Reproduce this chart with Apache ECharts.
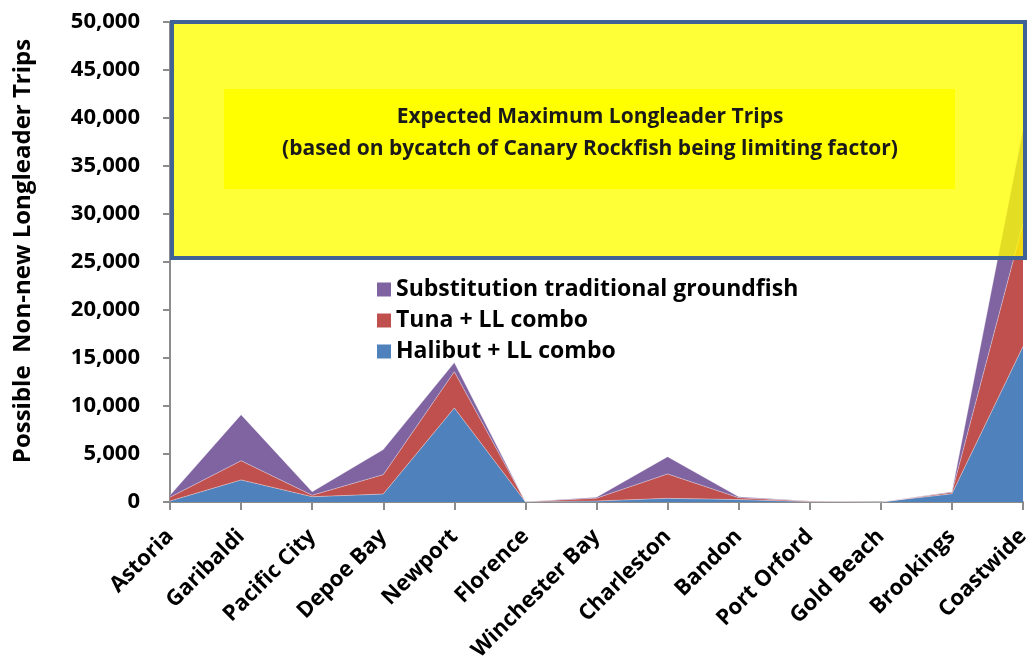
<!DOCTYPE html>
<html>
<head>
<meta charset="utf-8">
<script src="https://cdn.jsdelivr.net/npm/echarts@6/dist/echarts.min.js"></script>
<style>
  html, body { margin: 0; padding: 0; background: #ffffff; }
  #chart { width: 1031px; height: 666px; }
</style>
</head>
<body>
<div id="chart"></div>
<script>
// Ports along the coast, plus the coastwide total
const ports = ['Astoria', 'Garibaldi', 'Pacific City', 'Depoe Bay', 'Newport', 'Florence',
  'Winchester Bay', 'Charleston', 'Bandon', 'Port Orford', 'Gold Beach', 'Brookings', 'Coastwide'];

// Trips per category (stacked: halibut at the bottom, substitution on top)
const halibutLL = [100, 2300, 550, 830, 9800, 20, 100, 380, 250, 30, 0, 850, 16200];
const tunaLL = [400, 2000, 150, 2020, 3770, 10, 300, 2540, 200, 50, 0, 150, 12800];
const substitution = [200, 4800, 370, 2610, 950, 0, 100, 1800, 100, 20, 0, 70, 9800];

const seriesNames = ['Halibut + LL combo', 'Tuna + LL combo', 'Substitution traditional groundfish'];
const seriesColors = ['#4f81bd', '#c0504d', '#8064a2'];
const seriesData = [halibutLL, tunaLL, substitution];

const yTicks = { min: 0, max: 50000, step: 5000 };
const yAxisTitle = 'Possible  Non-new Longleader Trips';
const noteLines = ['Expected Maximum Longleader Trips',
  '(based on bycatch of Canary Rockfish being limiting factor)'];

const FONT = '"Open Sans", Lato, sans-serif';
const chart = echarts.init(document.getElementById('chart'));

chart.setOption({
  animation: false,
  backgroundColor: '#ffffff',
  grid: { left: 170, right: 8, top: 22, bottom: 164, containLabel: false, outerBoundsMode: 'none' },
  legend: {
    orient: 'vertical',
    left: 372,
    top: 273,
    itemWidth: 14,
    itemHeight: 14,
    itemGap: 8,
    icon: 'rect',
    data: [seriesNames[2], seriesNames[1], seriesNames[0]],
    textStyle: { fontFamily: FONT, fontWeight: 'bold', fontSize: 23, color: '#000' }
  },
  xAxis: {
    type: 'category',
    boundaryGap: false,
    data: ports,
    axisLine: { lineStyle: { color: '#8c8c8c', width: 2 } },
    axisTick: { show: true, alignWithLabel: true, length: 8, lineStyle: { color: '#8c8c8c', width: 2 } },
    axisLabel: {
      interval: 0,
      rotate: 45,
      margin: 31,
      align: 'right',
      verticalAlign: 'middle',
      fontFamily: FONT,
      fontWeight: 'bold',
      fontSize: 22,
      color: '#000'
    },
    splitLine: { show: false }
  },
  yAxis: {
    type: 'value',
    min: yTicks.min,
    max: yTicks.max,
    interval: yTicks.step,
    axisLine: { show: true, lineStyle: { color: '#8c8c8c', width: 2 } },
    axisTick: { show: true, length: 7, lineStyle: { color: '#8c8c8c', width: 2 } },
    axisLabel: {
      margin: 30,
      fontFamily: FONT,
      fontWeight: 'bold',
      fontSize: 22,
      color: '#000',
      formatter: v => v.toLocaleString('en-US')
    },
    splitLine: { show: false }
  },
  series: seriesNames.map((name, i) => ({
    name: name,
    type: 'line',
    stack: 'trips',
    data: seriesData[i],
    symbol: 'none',
    smooth: false,
    color: seriesColors[i],
    lineStyle: { width: 0.8, color: 'rgba(255,255,255,0.45)' },
    areaStyle: { color: seriesColors[i], opacity: 1 }
  })),
  graphic: [
    {
      // vertical axis title
      type: 'text',
      x: 23,
      y: 251,
      rotation: Math.PI / 2,
      style: {
        text: yAxisTitle,
        fontFamily: FONT,
        fontWeight: 'bold',
        fontSize: 24,
        fill: '#000',
        align: 'center',
        verticalAlign: 'middle'
      }
    },
    {
      type: 'rect',
      z: 100,
      shape: { x: 172, y: 22, width: 853, height: 236 },
      style: { fill: 'rgba(255,255,0,0.78)', stroke: '#3f6394', lineWidth: 4 }
    },
    {
      type: 'rect',
      z: 101,
      shape: { x: 224, y: 89, width: 731, height: 100 },
      style: { fill: '#ffff00' }
    },
    {
      type: 'text',
      z: 102,
      x: 590,
      y: 133,
      style: {
        text: noteLines.join('\n'),
        fontFamily: FONT,
        fontWeight: 'bold',
        fontSize: 21,
        lineHeight: 32,
        fill: '#1a1a1a',
        align: 'center',
        verticalAlign: 'middle'
      }
    }
  ]
});
</script>
</body>
</html>
